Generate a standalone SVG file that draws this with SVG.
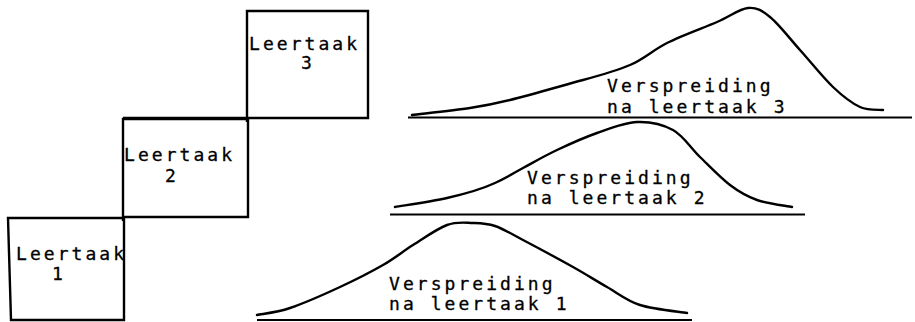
<svg xmlns="http://www.w3.org/2000/svg" width="915" height="322" viewBox="0 0 915 322">
  <style>
    .box { fill: none; stroke: #000; stroke-width: 2.4; stroke-linejoin: miter; }
    .curve { fill: none; stroke: #000; stroke-width: 2.4; stroke-linecap: round; stroke-linejoin: round; }
    .axis { fill: none; stroke: #000; stroke-width: 1.8; }
    .lbl { font-family: "DejaVu Sans Mono", "Liberation Mono", monospace; font-size: 18px; letter-spacing: 3.05px; fill: #000; stroke: #000; stroke-width: 0.3; }
  </style>

  <!-- staircase of learning tasks -->
  <g id="leertaak1">
    <path class="box" d="M8,218 L124,218 L124,320 L11,320 Z"/>
    <text class="lbl" x="16" y="260">Leertaak</text>
    <text class="lbl" x="52" y="280">1</text>
  </g>
  <g id="leertaak2">
    <path class="box" d="M123,221 L123,119 L248,119 L248,217 L124,217"/>
    <text class="lbl" x="124" y="161">Leertaak</text>
    <text class="lbl" x="165" y="182">2</text>
  </g>
  <g id="leertaak3">
    <path class="box" d="M247,122 L247,11 L368,11 L368,118 L123,118"/>
    <text class="lbl" x="249" y="50">Leertaak</text>
    <text class="lbl" x="301" y="69">3</text>
  </g>

  <!-- distribution curves with their baselines -->
  <g id="verspreiding3">
    <line class="axis" x1="408" y1="117.5" x2="912" y2="117.5"/>
    <path class="curve" d="M412,115 C421.7,113.8 453.7,110.5 470,108 C486.3,105.5 491.2,104.7 510,100 C528.8,95.3 563.5,85.3 583,80 C602.5,74.7 616,71 630,65 C644,59 652,50.7 667,43 C682,35.3 703.5,27.8 717,22 C730.5,16.2 739.2,8.8 748,8 C756.8,7.2 761.3,10 770,17 C778.7,24 789.5,38.3 800,50 C810.5,61.7 823,77.5 833,87 C843,96.5 851.7,103.2 860,107 C868.3,110.8 879.2,109.5 883,110"/>
    <text class="lbl" x="607" y="92">Verspreiding</text>
    <text class="lbl" x="607" y="113">na leertaak 3</text>
  </g>
  <g id="verspreiding2">
    <line class="axis" x1="390" y1="214.5" x2="805" y2="214.5"/>
    <path class="curve" d="M395,207 C403.7,205.5 430.7,201.7 447,198 C463.3,194.3 482,189 495,183 C508,177 512.3,173.8 523,168 C533.7,162.2 544.7,155.8 557,150 C569.3,144.2 583.7,137.7 597,133 C610.3,128.3 624.3,122.5 637,122 C649.7,121.5 662.5,124.2 673,130 C683.5,135.8 690.5,147.8 700,157 C709.5,166.2 720.5,177.8 730,185 C739.5,192.2 746.7,196.3 757,200 C767.3,203.7 786.2,205.8 792,207"/>
    <text class="lbl" x="527" y="184">Verspreiding</text>
    <text class="lbl" x="527" y="204">na leertaak 2</text>
  </g>
  <g id="verspreiding1">
    <line class="axis" x1="257" y1="320" x2="692" y2="320"/>
    <path class="curve" d="M257,315 C262.5,313.8 276.2,312.7 290,308 C303.8,303.3 324.5,294.2 340,287 C355.5,279.8 370.8,272 383,265 C395.2,258 402.3,251.7 413,245 C423.7,238.3 437,228.7 447,225 C457,221.3 465,222.8 473,223 C481,223.2 486.7,223.2 495,226 C503.3,228.8 510,233.2 523,240 C536,246.8 559,259.2 573,267 C587,274.8 595.8,280.7 607,287 C618.2,293.3 626.7,300.7 640,305 C653.3,309.3 679.2,311.7 687,313"/>
    <text class="lbl" x="389" y="290">Verspreiding</text>
    <text class="lbl" x="389" y="310">na leertaak 1</text>
  </g>
</svg>
